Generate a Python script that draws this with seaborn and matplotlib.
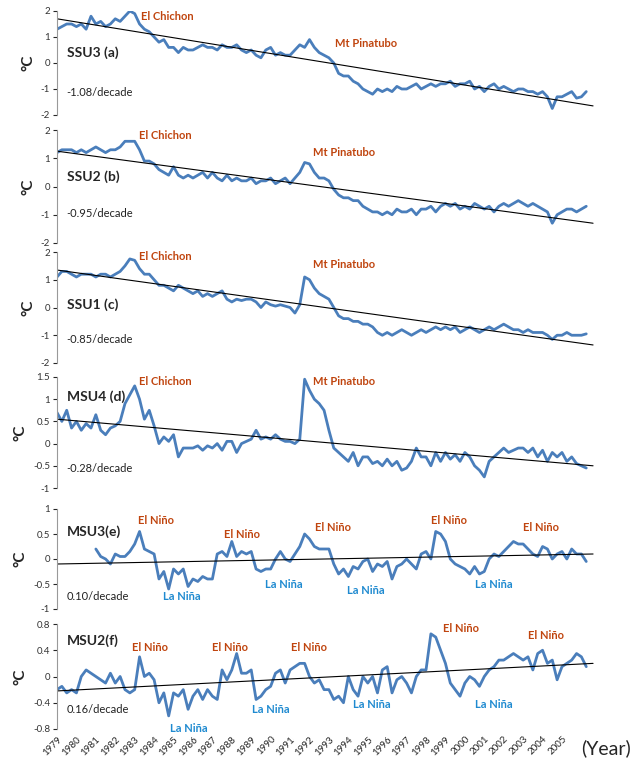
import numpy as np
import pandas as pd
import seaborn as sns
import matplotlib.pyplot as plt

sns.set_style("white")
plt.rcParams['font.family'] = ['Lato', 'DejaVu Sans']

nan = np.nan
# quarterly anomalies (1979 .. mid 2006)
ssu3 = [1.3, 1.4, 1.5, 1.5, 1.4, 1.5, 1.3, 1.8, 1.5, 1.6, 1.4, 1.5, 1.7, 1.6, 1.8, 2.0,
        1.9, 1.5, 1.3, 1.2, 1.0, 0.8, 0.9, 0.6, 0.6, 0.4, 0.6, 0.5, 0.5, 0.6, 0.7, 0.6,
        0.6, 0.5, 0.7, 0.6, 0.6, 0.7, 0.5, 0.4, 0.5, 0.3, 0.2, 0.5, 0.6, 0.3, 0.4, 0.3,
        0.3, 0.5, 0.7, 0.6, 0.9, 0.6, 0.4, 0.3, 0.2, 0.0, -0.4, -0.5, -0.5, -0.7, -0.8, -1.0,
        -1.1, -1.2, -1.0, -1.1, -1.0, -1.1, -0.9, -1.0, -1.0, -0.9, -0.8, -1.0, -0.9, -0.8, -0.9, -0.8,
        -0.8, -0.7, -0.9, -0.8, -0.8, -0.7, -1.0, -0.9, -1.1, -0.9, -0.8, -1.0, -0.9, -1.0, -1.1, -1.0,
        -1.0, -1.1, -1.1, -1.2, -1.1, -1.3, -1.75, -1.3, -1.3, -1.2, -1.1, -1.35, -1.3, -1.1]
ssu2 = [1.2, 1.3, 1.3, 1.3, 1.2, 1.3, 1.2, 1.3, 1.4, 1.3, 1.2, 1.3, 1.3, 1.4, 1.6, 1.6,
        1.6, 1.3, 0.9, 0.9, 0.8, 0.6, 0.5, 0.4, 0.7, 0.4, 0.3, 0.4, 0.3, 0.4, 0.5, 0.3,
        0.5, 0.3, 0.2, 0.4, 0.2, 0.3, 0.2, 0.2, 0.3, 0.1, 0.2, 0.2, 0.3, 0.1, 0.2, 0.3,
        0.1, 0.3, 0.5, 0.85, 0.8, 0.5, 0.3, 0.3, 0.2, -0.1, -0.3, -0.4, -0.4, -0.5, -0.5, -0.7,
        -0.8, -0.9, -0.9, -1.0, -0.9, -1.0, -0.8, -0.9, -0.9, -0.8, -1.0, -0.8, -0.8, -0.7, -0.9, -0.7,
        -0.6, -0.7, -0.6, -0.8, -0.7, -0.8, -0.6, -0.7, -0.8, -0.7, -0.9, -0.7, -0.6, -0.7, -0.6, -0.5,
        -0.6, -0.7, -0.6, -0.7, -0.8, -0.9, -1.3, -1.0, -0.9, -0.8, -0.8, -0.9, -0.8, -0.7]
ssu1 = [1.1, 1.3, 1.3, 1.2, 1.1, 1.2, 1.2, 1.2, 1.1, 1.2, 1.2, 1.1, 1.2, 1.3, 1.5, 1.75,
        1.7, 1.4, 1.2, 1.2, 1.0, 0.8, 0.8, 0.7, 0.6, 0.8, 0.7, 0.6, 0.5, 0.6, 0.4, 0.5,
        0.4, 0.5, 0.6, 0.3, 0.2, 0.3, 0.25, 0.3, 0.3, 0.2, 0.0, 0.2, 0.1, 0.05, 0.1, 0.05,
        0.0, -0.2, 0.1, 1.1, 1.0, 0.7, 0.5, 0.4, 0.3, 0.0, -0.3, -0.4, -0.4, -0.5, -0.5, -0.6,
        -0.6, -0.7, -0.9, -1.0, -0.9, -1.0, -0.9, -0.8, -0.9, -1.0, -0.9, -0.8, -0.9, -0.8, -0.7, -0.8,
        -0.7, -0.8, -0.7, -0.9, -0.8, -0.7, -0.8, -0.9, -0.8, -0.7, -0.8, -0.7, -0.6, -0.7, -0.8, -0.8,
        -0.9, -0.8, -0.9, -0.9, -0.9, -1.0, -1.15, -1.0, -1.0, -0.9, -1.0, -1.0, -1.0, -0.95]
msu4 = [0.7, 0.5, 0.75, 0.35, 0.5, 0.3, 0.45, 0.35, 0.65, 0.3, 0.2, 0.35, 0.4, 0.5, 0.9, 1.1,
        1.3, 1.0, 0.55, 0.75, 0.4, 0.0, 0.15, 0.05, 0.2, -0.3, -0.1, -0.1, -0.1, -0.05, -0.15, -0.05,
        -0.1, 0.0, -0.15, 0.05, 0.05, -0.2, 0.0, 0.05, 0.1, 0.3, 0.1, 0.15, 0.1, 0.2, 0.1, 0.05,
        0.05, 0.0, 0.1, 1.45, 1.2, 1.0, 0.9, 0.75, 0.3, -0.1, -0.2, -0.3, -0.4, -0.2, -0.5, -0.3,
        -0.3, -0.45, -0.4, -0.5, -0.35, -0.5, -0.4, -0.6, -0.55, -0.4, -0.1, -0.3, -0.3, -0.5, -0.2, -0.4,
        -0.2, -0.35, -0.25, -0.4, -0.2, -0.3, -0.5, -0.6, -0.75, -0.4, -0.3, -0.2, -0.1, -0.2, -0.15, -0.1,
        -0.1, -0.2, -0.1, -0.3, -0.15, -0.4, -0.2, -0.3, -0.2, -0.4, -0.3, -0.45, -0.5, -0.55]
msu3 = [nan, nan, nan, nan, nan, nan, nan, nan, 0.2, 0.05, 0.0, -0.1, 0.1, 0.05, 0.05, 0.15,
        0.3, 0.55, 0.2, 0.15, 0.1, -0.4, -0.25, -0.6, -0.2, -0.3, -0.2, -0.55, -0.4, -0.45, -0.35, -0.4,
        -0.4, 0.1, 0.15, 0.05, 0.35, 0.05, 0.15, 0.1, 0.15, -0.2, -0.25, -0.2, -0.2, 0.0, 0.15, 0.0,
        -0.05, 0.1, 0.25, 0.5, 0.4, 0.25, 0.2, 0.2, 0.2, -0.1, -0.3, -0.2, -0.35, -0.15, -0.2, -0.05,
        0.0, -0.25, -0.1, -0.15, -0.05, -0.4, -0.15, -0.1, 0.0, -0.1, -0.2, 0.1, 0.15, 0.0, 0.55, 0.5,
        0.35, 0.0, -0.1, -0.15, -0.2, -0.3, -0.15, -0.3, -0.25, 0.0, 0.1, 0.05, 0.15, 0.25, 0.35, 0.3,
        0.3, 0.2, 0.1, 0.05, 0.25, 0.2, 0.0, 0.1, 0.15, 0.0, 0.2, 0.1, 0.1, -0.05]
msu2 = [-0.2, -0.15, -0.25, -0.2, -0.25, 0.0, 0.1, 0.05, 0.0, -0.05, -0.1, 0.05, -0.1, 0.0, -0.2, -0.25,
        -0.2, 0.3, 0.0, 0.05, -0.05, -0.4, -0.25, -0.6, -0.25, -0.3, -0.2, -0.5, -0.3, -0.2, -0.35, -0.2,
        -0.3, -0.35, 0.1, -0.05, 0.1, 0.35, 0.05, 0.05, 0.1, -0.35, -0.3, -0.2, -0.15, 0.05, 0.1, -0.1,
        0.1, 0.15, 0.2, 0.2, 0.0, -0.1, -0.05, -0.2, -0.2, -0.35, -0.3, -0.4, 0.0, -0.2, -0.3, 0.0,
        -0.1, 0.0, -0.25, 0.1, 0.15, -0.25, -0.05, 0.0, -0.1, -0.25, 0.0, 0.1, 0.1, 0.65, 0.6, 0.4,
        0.2, -0.1, -0.2, -0.3, -0.1, 0.0, -0.05, -0.15, 0.0, 0.1, 0.15, 0.25, 0.25, 0.3, 0.35, 0.3,
        0.25, 0.3, 0.1, 0.35, 0.4, 0.2, 0.25, -0.05, 0.15, 0.2, 0.25, 0.35, 0.3, 0.15]

names = ["SSU3 (a)", "SSU2 (b)", "SSU1 (c)", "MSU4 (d)", "MSU3(e)", "MSU2(f)"]
series = [ssu3, ssu2, ssu1, msu4, msu3, msu2]
trend_text = ["-1.08/decade", "-0.95/decade", "-0.85/decade", "-0.28/decade",
              "0.10/decade", "0.16/decade"]
trend_start = [1.7, 1.25, 1.35, 0.55, -0.1, -0.22]
trend_end = [-1.65, -1.3, -1.35, -0.5, 0.1, 0.2]
years = list(range(1979, 2006))
t = 1979 + np.arange(len(ssu3)) / 4.0
t_end = 2006.6

volc = [("El Chichon", 1983.3, 1.78, "Mt Pinatubo", 1993.3, 0.75),
        ("El Chichon", 1983.2, 1.8, "Mt Pinatubo", 1992.2, 1.2),
        ("El Chichon", 1983.2, 1.85, "Mt Pinatubo", 1992.2, 1.55),
        ("El Chichon", 1983.2, 1.4, "Mt Pinatubo", 1992.2, 1.4)]
enso = [([(1984.1, 0.77), (1988.5, 0.5), (1993.2, 0.63), (1999.2, 0.77), (2003.9, 0.63)],
         [(1985.45, -0.75), (1990.7, -0.5), (1994.9, -0.63), (2001.5, -0.5)]),
        ([(1983.8, 0.44), (1987.9, 0.44), (1992.0, 0.44), (1999.8, 0.73), (2004.2, 0.63)],
         [(1985.8, -0.8), (1990.0, -0.5), (1995.2, -0.42), (2001.5, -0.42)])]
ylims = [(-2, 2), (-2, 2), (-2, 2), (-1, 1.5), (-1, 1), (-0.8, 0.8)]
yticks = [[-2, -1, 0, 1, 2]] * 3 + [[-1, -0.5, 0, 0.5, 1, 1.5], [-1, -0.5, 0, 0.5, 1],
                                   [-0.8, -0.4, 0, 0.4, 0.8]]
label_y = [0.4, 0.35, 0.1, 1.05, 0.55, 0.55]
trend_y = [-1.15, -0.95, -1.15, -0.55, -0.75, -0.5]

line_col = "#4a7ebb"
red = "#c0450f"
blue = "#1f8ad0"

fig = plt.figure(figsize=(6.34, 7.63), dpi=100)
tops = [11, 130, 252, 377, 509, 624]
bots = [115, 243, 363, 488, 609, 729]
for i in range(6):
    ax = fig.add_axes([57 / 634, 1 - bots[i] / 763, 538 / 634, (bots[i] - tops[i]) / 763])
    df = pd.DataFrame({"t": t, "v": series[i]})
    sns.lineplot(data=df, x="t", y="v", ax=ax, color=line_col, lw=2)
    ax.plot([1979, t_end], [trend_start[i], trend_end[i]], color="black", lw=0.8)
    ax.set_xlim(1979, t_end + 0.1)
    ax.set_ylim(*ylims[i])
    ax.set_yticks(yticks[i])
    ax.set_yticklabels([f"{v:g}" for v in yticks[i]], fontsize=7, color="#333333")
    ax.tick_params(axis="y", length=3, pad=2, left=True)
    for s in ["top", "right", "bottom"]:
        ax.spines[s].set_visible(False)
    ax.spines["left"].set_color("#999999")
    ax.set_xlabel("")
    ax.set_ylabel("°C", fontsize=11, fontweight="bold", labelpad=4)
    ax.text(1979.5, label_y[i], names[i], fontsize=10, fontweight="bold", va="center")
    ax.text(1979.5, trend_y[i], trend_text[i], fontsize=8, va="center", color="#222222")
    if i < 4:
        n1, x1, y1, n2, x2, y2 = volc[i]
        ax.text(x1, y1, n1, color=red, fontsize=8, fontweight="bold", va="center")
        ax.text(x2, y2, n2, color=red, fontsize=8, fontweight="bold", va="center")
    else:
        nino, nina = enso[i - 4]
        for x, y in nino:
            ax.text(x, y, "El Niño", color=red, fontsize=8, fontweight="bold",
                    ha="center", va="center")
        for x, y in nina:
            ax.text(x, y, "La Niña", color=blue, fontsize=8, fontweight="bold",
                    ha="center", va="center")
    ax.set_xticks(years)
    if i == 5:
        ax.set_xticklabels([str(y) for y in years], rotation=45, ha="right",
                           rotation_mode="anchor", fontsize=7)
        ax.tick_params(axis="x", length=0, pad=4)
    else:
        ax.set_xticklabels([])
        ax.tick_params(axis="x", length=0)

fig.text(0.995, 1 - 748 / 763, "(Year)", fontsize=14, ha="right", va="center")
fig.savefig("out.png", dpi=100)
